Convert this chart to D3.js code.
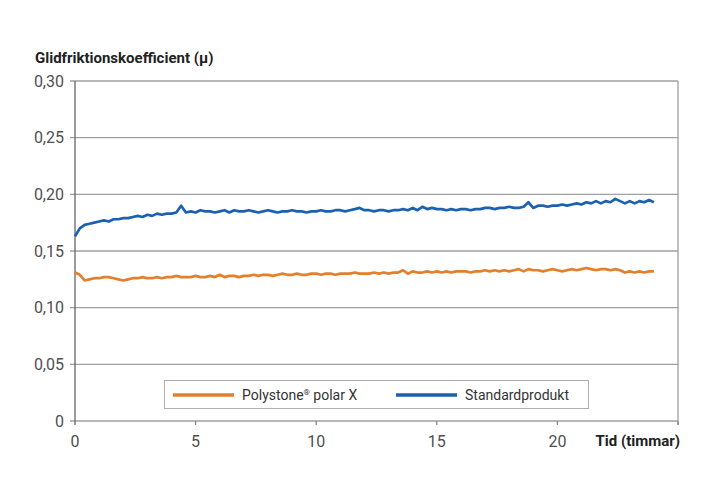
<!DOCTYPE html>
<html>
<head>
<meta charset="utf-8">
<script src="https://cdn.jsdelivr.net/npm/d3@7"></script>
<style>
  body { margin: 0; background: #fff; }
  text { font-family: Roboto, "DejaVu Sans", sans-serif; }
  .tick-label { font-size: 16px; fill: #505050; font-weight: 400; }
  .axis-title { font-size: 15px; font-weight: bold; fill: #222; }
  .legend-text { font-size: 14px; fill: #333; }
</style>
</head>
<body>
<svg id="chart" width="715" height="500"></svg>
<script>
// tidssteg (timmar) och mätvärden
var step = 0.2;
var yTicks = [0, 0.05, 0.10, 0.15, 0.20, 0.25, 0.30];
var xTicks = [0, 5, 10, 15, 20];
var seriesNames = ["Polystone", "Standardprodukt"];

var polystone = [
  0.131, 0.129, 0.124, 0.125, 0.126, 0.126, 0.127, 0.127, 0.126, 0.125,
  0.124, 0.125, 0.126, 0.126, 0.127, 0.126, 0.126, 0.127, 0.126, 0.127,
  0.127, 0.128, 0.127, 0.127, 0.127, 0.128, 0.127, 0.127, 0.128, 0.127,
  0.129, 0.127, 0.128, 0.128, 0.127, 0.128, 0.128, 0.129, 0.128, 0.129,
  0.129, 0.128, 0.129, 0.130, 0.129, 0.129, 0.130, 0.129, 0.129, 0.130,
  0.130, 0.129, 0.130, 0.130, 0.129, 0.130, 0.130, 0.130, 0.131, 0.130,
  0.130, 0.130, 0.131, 0.130, 0.131, 0.130, 0.131, 0.131, 0.133, 0.130,
  0.132, 0.131, 0.131, 0.132, 0.131, 0.132, 0.131, 0.132, 0.131, 0.132,
  0.132, 0.132, 0.131, 0.132, 0.132, 0.133, 0.132, 0.133, 0.132, 0.133,
  0.132, 0.133, 0.134, 0.132, 0.134, 0.133, 0.133, 0.132, 0.133, 0.134,
  0.133, 0.132, 0.133, 0.134, 0.133, 0.134, 0.135, 0.134, 0.133, 0.134,
  0.134, 0.133, 0.134, 0.133, 0.131, 0.132, 0.131, 0.132, 0.131, 0.132,
  0.132
];

var standard = [
  0.163, 0.170, 0.173, 0.174, 0.175, 0.176, 0.177, 0.176, 0.178, 0.178,
  0.179, 0.179, 0.180, 0.181, 0.180, 0.182, 0.181, 0.183, 0.182, 0.183,
  0.183, 0.184, 0.190, 0.184, 0.185, 0.184, 0.186, 0.185, 0.185, 0.184,
  0.185, 0.186, 0.184, 0.186, 0.185, 0.185, 0.186, 0.185, 0.184, 0.185,
  0.186, 0.185, 0.184, 0.185, 0.185, 0.186, 0.185, 0.185, 0.184, 0.185,
  0.185, 0.186, 0.185, 0.185, 0.186, 0.186, 0.185, 0.186, 0.187, 0.188,
  0.186, 0.186, 0.185, 0.186, 0.186, 0.185, 0.186, 0.186, 0.187, 0.186,
  0.188, 0.186, 0.189, 0.187, 0.188, 0.187, 0.187, 0.186, 0.187, 0.186,
  0.187, 0.187, 0.186, 0.187, 0.187, 0.188, 0.188, 0.187, 0.188, 0.188,
  0.189, 0.188, 0.188, 0.189, 0.193, 0.188, 0.190, 0.190, 0.189, 0.190,
  0.190, 0.191, 0.190, 0.191, 0.192, 0.191, 0.193, 0.192, 0.194, 0.192,
  0.194, 0.193, 0.196, 0.194, 0.192, 0.194, 0.192, 0.194, 0.193, 0.195,
  0.193
];

var colors = ["#e47f2c", "#1b61b2"];

var svg = d3.select("#chart");
var mLeft = 75, mRight = 678, mTop = 81, mBottom = 421;

var x = d3.scaleLinear().domain([0, 25]).range([mLeft, mRight]);
var y = d3.scaleLinear().domain([0, 0.30]).range([mBottom, mTop]);

// rutnät
svg.append("g").selectAll("line").data(yTicks).enter().append("line")
  .attr("x1", mLeft - 5).attr("x2", mRight)
  .attr("y1", function(d) { return y(d); }).attr("y2", function(d) { return y(d); })
  .attr("stroke", "#a0a0a0").attr("stroke-width", 1.3);

// höger kant
svg.append("line").attr("x1", mRight).attr("x2", mRight).attr("y1", mTop).attr("y2", mBottom + 4)
  .attr("stroke", "#a0a0a0").attr("stroke-width", 1.3);

// y-axel
svg.append("line").attr("x1", mLeft).attr("x2", mLeft).attr("y1", mTop).attr("y2", mBottom + 4)
  .attr("stroke", "#666").attr("stroke-width", 1.3);

svg.append("g").selectAll("text").data(yTicks).enter().append("text")
  .attr("class", "tick-label")
  .attr("x", 64).attr("y", function(d) { return y(d); })
  .attr("dy", "0.35em").style("text-anchor", "end")
  .text(function(d) { return d === 0 ? "0" : d3.format(".2f")(d).replace(".", ","); });

// x-axel, tickmarkeringar
svg.append("g").selectAll("line").data([5, 10, 15, 20, 25]).enter().append("line")
  .attr("x1", function(d) { return x(d); }).attr("x2", function(d) { return x(d); })
  .attr("y1", mBottom).attr("y2", mBottom + 4)
  .attr("stroke", "#888").attr("stroke-width", 1.3);

svg.append("g").selectAll("text").data(xTicks).enter().append("text")
  .attr("class", "tick-label")
  .attr("x", function(d) { return x(d); }).attr("y", 447)
  .style("text-anchor", "middle")
  .text(function(d) { return d; });

svg.append("text").attr("class", "axis-title")
  .attr("x", 680).attr("y", 446).style("text-anchor", "end")
  .text("Tid (timmar)");

svg.append("text").attr("class", "axis-title")
  .attr("x", 35).attr("y", 63)
  .text("Glidfriktionskoefficient (\u03BC)");

// linjer
var line = d3.line()
  .x(function(d, i) { return x(i * step); })
  .y(function(d) { return y(d); });

[polystone, standard].forEach(function(s, k) {
  svg.append("path").datum(s)
    .attr("fill", "none").attr("stroke", colors[k]).attr("stroke-width", 2.7)
    .attr("stroke-linejoin", "round")
    .attr("d", line);
});

// förklaring
svg.append("rect").attr("x", 164.5).attr("y", 380.5).attr("width", 424).attr("height", 28)
  .attr("fill", "#fff").attr("stroke", "#b0b0b0").attr("stroke-width", 1);

var legendX = [173, 396];
seriesNames.forEach(function(name, k) {
  svg.append("line").attr("x1", legendX[k]).attr("x2", legendX[k] + 61)
    .attr("y1", 395).attr("y2", 395)
    .attr("stroke", colors[k]).attr("stroke-width", 3.5);
  var t = svg.append("text").attr("class", "legend-text")
    .attr("x", legendX[k] + 69).attr("y", 395).attr("dy", "0.35em")
    .text(name);
  if (k === 0) {
    t.append("tspan").attr("font-size", "8px").attr("dy", "-5").text("\u00AE");
    t.append("tspan").attr("dy", "5").text(" polar X");
  }
});
</script>
</body>
</html>
